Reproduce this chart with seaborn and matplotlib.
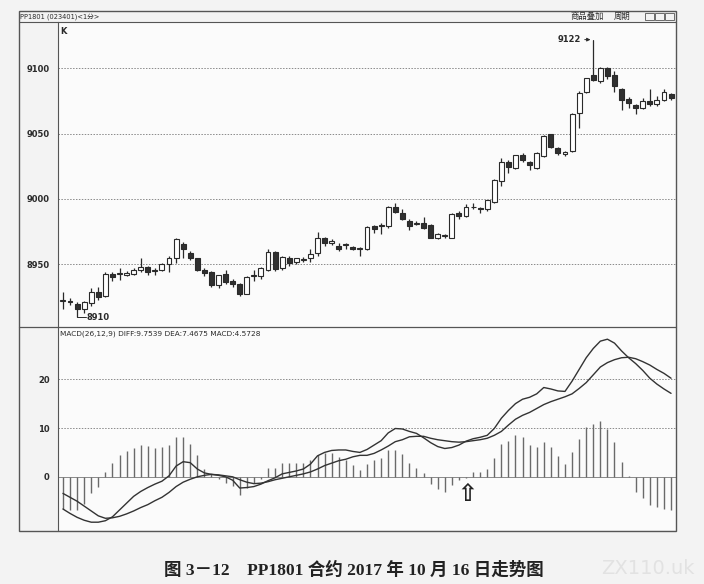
import numpy as np
import pandas as pd
import matplotlib
matplotlib.use("Agg")
import matplotlib.pyplot as plt
import seaborn as sns
from matplotlib.lines import Line2D
from matplotlib.patches import Rectangle

# ---- data (1-minute bars, PP1801) ----
opens = [8922, 8922, 8919.5, 8915.5, 8920.5, 8928.7, 8925.6, 8942.3, 8942.5, 8942, 8942.3, 8945.5,
         8947.6, 8945, 8946, 8950, 8954.5, 8965.5, 8959, 8954.5, 8946, 8944, 8934, 8942.3,
         8937, 8934.6, 8927, 8941, 8941, 8946, 8959.6, 8947, 8955, 8951.7, 8953, 8954.7,
         8958.3, 8970, 8966.5, 8964, 8964.7, 8963.5, 8962, 8961.6, 8979.5, 8979.2, 8979.2, 8994,
         8989.4, 8983, 8980.5, 8982, 8980, 8970.3, 8971.8, 8970.3, 8989, 8987, 8993.5, 8993,
         8992, 8998, 9014, 9028, 9023.4, 9034, 9028.5, 9023.4, 9033, 9049.7, 9039, 9034.6,
         9037, 9065.5, 9081.8, 9095, 9090, 9100, 9095, 9084, 9076.5, 9072, 9070, 9075,
         9072.5, 9076, 9080]
closes = [8922, 8921, 8915.5, 8921, 8928.7, 8925, 8942.3, 8940, 8942.5, 8943.5, 8945.5, 8948,
          8944, 8945, 8950, 8955, 8969, 8961.5, 8954.7, 8946, 8943, 8934, 8941.5, 8936.6,
          8934.7, 8927, 8940.5, 8941, 8947.3, 8959.6, 8946.6, 8955.8, 8950.7, 8954.7, 8954, 8958,
          8970, 8966.5, 8968, 8962, 8964.7, 8962, 8962, 8978.7, 8976.7, 8979.2, 8994, 8990,
          8985, 8979, 8982, 8978, 8970.3, 8973, 8971.8, 8988.4, 8987, 8994, 8993.5, 8992,
          8999, 9014.5, 9028.5, 9024.7, 9033.6, 9029.5, 9026, 9035.4, 9048, 9040, 9035.4, 9036,
          9064.8, 9081, 9092.3, 9091, 9100, 9094, 9086.5, 9076, 9073.6, 9069.4, 9075, 9073,
          9075.7, 9082, 9077]
highs = [8929, 8924, 8921, 8922, 8932, 8933, 8944, 8944, 8947, 8945, 8947, 8955,
         8949, 8947, 8951, 8956, 8970, 8967, 8960, 8955, 8947, 8945, 8942, 8946,
         8939, 8936, 8941, 8946, 8948, 8962, 8960, 8956, 8956, 8955, 8955.5, 8962,
         8975, 8971, 8969, 8966, 8966, 8964, 8963, 8979, 8980, 8982, 8995, 8997,
         8992, 8985, 8983, 8986, 8981, 8974, 8973, 8989, 8991, 8996, 8997, 8994,
         8999.5, 9015, 9031, 9030, 9034, 9035, 9029, 9036, 9049, 9050, 9040, 9037,
         9066, 9083, 9093, 9122, 9101, 9101, 9098, 9085, 9078, 9073, 9077, 9084,
         9079, 9084, 9081]
lows = [8916, 8919, 8910, 8913, 8918, 8923, 8925, 8937, 8938, 8941, 8942, 8944,
        8942, 8942, 8945, 8944, 8951, 8955, 8953, 8945, 8941, 8933, 8932, 8935,
        8933, 8926, 8927, 8937, 8939, 8945, 8945, 8946, 8949, 8950, 8952, 8952,
        8956, 8964, 8965, 8960, 8962, 8961, 8956, 8961, 8974, 8973, 8978, 8989,
        8984, 8976, 8980, 8977, 8970, 8969, 8970, 8970, 8985, 8986, 8992, 8989,
        8991, 8997, 9010, 9020, 9023, 9028, 9022, 9023, 9032, 9039, 9034, 9033,
        9036, 9054, 9081, 9090, 9089, 9092, 9082, 9068, 9070, 9065, 9069, 9071,
        9071, 9075, 9076]

diff = [-6.6, -7.5, -8.3, -8.9, -9.3, -9.3, -9.0, -8.2, -6.8, -5.4, -4.0, -3.0,
        -2.2, -1.5, -0.9, 0.2, 2.2, 3.1, 2.9, 1.6, 0.8, 0.5, 0.3, 0.0,
        -0.7, -2.3, -2.2, -2.0, -1.5, -0.8, -0.2, 0.6, 0.9, 1.2, 1.6, 2.6,
        4.3, 5.0, 5.4, 5.5, 5.5, 5.2, 5.0, 5.6, 6.5, 7.4, 9.0, 9.9,
        9.8, 9.3, 8.9, 8.0, 7.0, 6.2, 5.8, 6.0, 6.5, 7.3, 7.8, 8.1,
        8.5, 9.9, 12.0, 13.6, 15.0, 15.9, 16.3, 17.0, 18.3, 18.0, 17.6, 17.5,
        19.6, 22.0, 24.4, 26.3, 27.8, 28.2, 27.4, 25.8, 24.4, 23.2, 21.8, 20.2,
        19.0, 18.0, 17.1]
dea = [-3.4, -4.2, -5.0, -6.0, -7.0, -8.0, -8.5, -8.4, -8.1, -7.6, -7.0, -6.3,
       -5.7, -4.9, -4.2, -3.2, -2.0, -1.1, -0.5, 0.0, 0.3, 0.5, 0.4, 0.2,
       0.0, -0.6, -1.1, -1.4, -1.3, -1.0, -0.6, -0.3, 0.0, 0.3, 0.6, 1.0,
       1.6, 2.3, 2.8, 3.3, 3.6, 4.1, 4.4, 4.4, 4.8, 5.5, 6.3, 7.2,
       7.6, 8.2, 8.3, 8.3, 7.9, 7.6, 7.4, 7.2, 7.1, 7.2, 7.4, 7.6,
       7.9, 8.5, 9.3, 10.6, 11.8, 12.6, 13.2, 14.0, 14.8, 15.4, 15.9, 16.4,
       17.0, 18.1, 19.3, 20.9, 22.5, 23.4, 24.0, 24.4, 24.5, 24.2, 23.6, 22.9,
       22.0, 21.2, 20.2]
macd_bar = [-6.5, -6.7, -6.8, -5.5, -3.3, -2.0, 0.9, 2.9, 4.4, 5.3, 5.9, 6.5,
            6.3, 5.9, 6.1, 6.5, 8.2, 8.2, 6.7, 4.4, 1.5, 0.6, -0.4, -1.2,
            -1.8, -3.8, -2.2, -1.2, -0.4, 1.8, 1.8, 2.8, 2.8, 2.9, 2.8, 3.4,
            4.4, 4.9, 4.8, 4.1, 3.4, 2.4, 1.4, 2.7, 3.4, 3.8, 5.5, 5.5,
            4.7, 2.9, 1.9, 0.7, -1.4, -2.4, -3.2, -1.6, -0.7, -0.3, 1.0, 1.0,
            1.6, 3.9, 6.7, 7.4, 8.5, 8.1, 6.5, 6.2, 7.2, 6.2, 4.2, 2.6,
            5.0, 7.7, 10.2, 10.9, 11.5, 9.9, 7.2, 3.1, 0.1, -3.1, -4.4, -5.8,
            -6.1, -6.5, -6.7]

price_ticks = [8950, 9000, 9050, 9100]
macd_ticks = [0, 10, 20]

df = pd.DataFrame({"open": opens, "high": highs, "low": lows, "close": closes,
                   "diff": diff, "dea": dea, "macd": macd_bar})
df["t"] = np.arange(len(df))

sns.set_theme(style="white")
plt.rcParams["font.family"] = ["DejaVu Sans", "Noto Sans CJK SC"]

W, H = 704, 584
fig = plt.figure(figsize=(W / 100, H / 100), dpi=100, facecolor="#f3f3f3")

def fx(px):
    return px / W

def fy(py):
    return 1 - py / H

ax_k = fig.add_axes([fx(58), fy(327), fx(676 - 58), (327 - 22) / H], facecolor="#fbfbfb")
ax_m = fig.add_axes([fx(58), fy(530), fx(676 - 58), (530 - 327) / H], facecolor="#fbfbfb")

ink = "#2a2a2a"
grid_kw = dict(color="#8a8a8a", linestyle=(0, (1.5, 1.5)), linewidth=0.7, zorder=0)

# ---- candles ----
up = df["close"] >= df["open"]
body_lo = df[["open", "close"]].min(axis=1)
body_hi = df[["open", "close"]].max(axis=1)
body_h = (body_hi - body_lo).clip(lower=0.6)
ax_k.vlines(df["t"], df["low"], df["high"], color=ink, linewidth=0.9, zorder=2)
ax_k.bar(df["t"][up], body_h[up], bottom=body_lo[up], width=0.7,
         facecolor="white", edgecolor=ink, linewidth=0.8, zorder=3)
ax_k.bar(df["t"][~up], body_h[~up], bottom=body_lo[~up], width=0.7,
         facecolor="#303030", edgecolor=ink, linewidth=0.8, zorder=3)

for p in price_ticks:
    ax_k.axhline(p, **grid_kw)
ax_k.set_xlim(-0.7, 86.7)
ax_k.set_ylim(8902, 9135.5)
ax_k.set_yticks(price_ticks)
ax_k.set_yticklabels([str(p) for p in price_ticks], fontsize=6, fontweight="bold", color=ink)
ax_k.set_xticks([])
ax_k.tick_params(axis="y", length=0, pad=6)
ax_k.text(0.004, 0.985, "K", transform=ax_k.transAxes, fontsize=6, fontweight="bold",
          color=ink, va="top", ha="left")

# high / low markers
hi_i = int(np.argmax(df["high"]))
lo_i = int(np.argmin(df["low"]))
ax_k.annotate("", xy=(hi_i, 9122), xytext=(hi_i - 1.6, 9122),
              arrowprops=dict(arrowstyle="-|>", color=ink, lw=0.7, mutation_scale=5))
ax_k.plot([hi_i, hi_i], [9122, 9100], color=ink, linewidth=0.7, zorder=1)
ax_k.text(hi_i - 1.8, 9122, "9122", fontsize=6, fontweight="bold", color=ink, ha="right", va="center")
ax_k.plot([lo_i, lo_i, lo_i + 1.2], [8913, 8910, 8910], color=ink, linewidth=0.7)
ax_k.text(lo_i + 1.3, 8909.5, "8910", fontsize=6, fontweight="bold", color=ink, ha="left", va="center")

# ---- MACD ----
for v in [10, 20]:
    ax_m.axhline(v, **grid_kw)
ax_m.axhline(0, color="#777777", linewidth=0.6, zorder=0)
ax_m.vlines(df["t"], 0, df["macd"], color="#6a6a6a", linewidth=1.0, zorder=1)
sns.lineplot(data=df, x="t", y="diff", ax=ax_m, color="#333333", linewidth=1.0, zorder=3)
sns.lineplot(data=df, x="t", y="dea", ax=ax_m, color="#333333", linewidth=1.0, zorder=3)
ax_m.set_xlim(-0.7, 86.7)
ax_m.set_ylim(-10.9, 30.7)
ax_m.set_yticks(macd_ticks)
ax_m.set_yticklabels([str(v) for v in macd_ticks], fontsize=6, fontweight="bold", color=ink)
ax_m.set_xticks([])
ax_m.set_xlabel("")
ax_m.set_ylabel("")
ax_m.tick_params(axis="y", length=0, pad=6)
ax_m.text(0.003, 0.985, "MACD(26,12,9) DIFF:9.7539 DEA:7.4675 MACD:4.5728",
          transform=ax_m.transAxes, fontsize=5.3, color=ink, va="top", ha="left")
ax_m.text(57.2, -3.6, "\u21e7", fontsize=17, fontweight="bold", color="#222222",
          ha="center", va="center")

for a in (ax_k, ax_m):
    for s in a.spines.values():
        s.set_visible(False)
    a.spines["left"].set_visible(True)
    a.spines["left"].set_color("#555555")
    a.spines["left"].set_linewidth(0.8)

# ---- outer frame & title bar ----
fig.add_artist(Rectangle((fx(19), fy(531)), fx(676 - 19), (531 - 11) / H, fill=False,
                         edgecolor="#555555", linewidth=1.0, transform=fig.transFigure))
fig.add_artist(Line2D([fx(19), fx(676)], [fy(22), fy(22)], color="#555555", linewidth=0.8,
                      transform=fig.transFigure))
fig.add_artist(Line2D([fx(19), fx(676)], [fy(327), fy(327)], color="#555555", linewidth=0.9,
                      transform=fig.transFigure))
fig.text(fx(20), fy(16.5), "PP1801 (023401)<1分>", fontsize=4.8, color=ink, va="center",
         family=["DejaVu Sans", "Noto Sans CJK SC"])
fig.text(fx(587), fy(16.5), "商品叠加", fontsize=6, color=ink, va="center", ha="center",
         family=["Noto Sans CJK SC", "DejaVu Sans"])
fig.text(fx(622), fy(16.5), "周期", fontsize=6, color=ink, va="center", ha="center",
         family=["Noto Sans CJK SC", "DejaVu Sans"])
for bx in [645, 655, 665]:
    fig.add_artist(Rectangle((fx(bx), fy(20)), fx(9), 7 / H, fill=False, edgecolor="#555555",
                             linewidth=0.6, transform=fig.transFigure))

# ---- caption ----
fig.text(fx(354), fy(570), "图 3－12    PP1801 合约 2017 年 10 月 16 日走势图", fontsize=12.6,
         fontweight="bold", color="#222222", ha="center", va="center",
         family=["Liberation Serif", "Noto Sans CJK SC"])
fig.text(fx(648), fy(568), "ZX110.uk", fontsize=14, color="#e2e2e2", ha="center", va="center")

fig.savefig("out.png", dpi=100, facecolor=fig.get_facecolor())
